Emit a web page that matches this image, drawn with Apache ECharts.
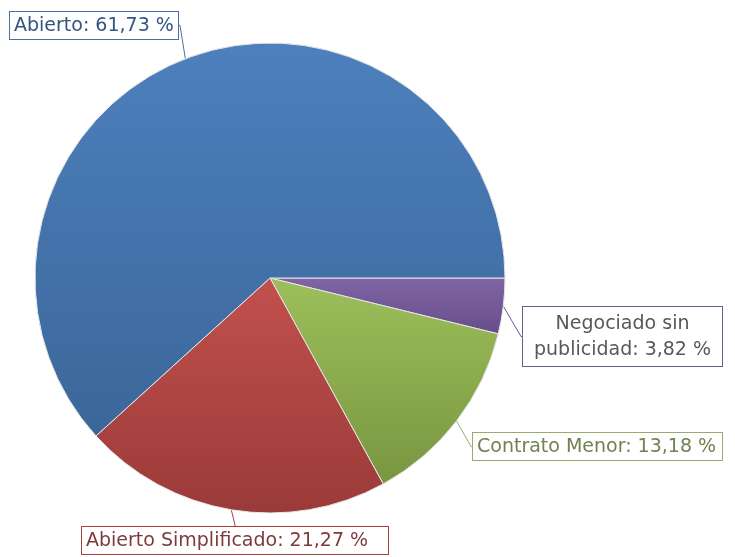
<!DOCTYPE html>
<html>
<head>
<meta charset="utf-8">
<script src="https://cdn.jsdelivr.net/npm/echarts@6/dist/echarts.min.js"></script>
<style>
  html, body { margin: 0; padding: 0; background: #fff; }
  #chart { width: 735px; height: 557px; }
</style>
</head>
<body>
<div id="chart"></div>
<script>
const categories = ["Negociado sin\npublicidad", "Contrato Menor", "Abierto Simplificado", "Abierto"];
const values = [3.82, 13.18, 21.27, 61.73];

const topColors = ["#8165a6", "#9dbf5b", "#c2504d", "#4d80bd"];
const bottomColors = ["#664d89", "#799640", "#9a3b39", "#3b6699"];
const borderColors = ["#6d5a92", "#98ab6c", "#a5403e", "#4a719f"];
const textColors = ["#585858", "#728150", "#7c3b3a", "#33557e"];

// label boxes: left, top, width of text area
const labelSpots = [[523, 307, 191], [473, 433, 241], [82, 527, 298], [10, 12, 160]];

const grad = (a, b) => new echarts.graphic.LinearGradient(0, 0, 0, 1, [
  { offset: 0, color: a },
  { offset: 1, color: b },
]);

const fmt = (v) => v.toFixed(2).replace(".", ",") + " %";

var myChart = echarts.init(document.getElementById("chart"));
var option = {
  animation: false,
  textStyle: { fontFamily: "DejaVu Sans" },
  series: [
    {
      type: "pie",
      center: [270, 278],
      radius: 235,
      startAngle: 0,
      clockwise: true,
      data: categories.map((c, i) => ({
        name: c,
        value: values[i],
        itemStyle: { color: grad(topColors[i], bottomColors[i]) },
        label: {
          color: textColors[i],
          borderColor: borderColors[i],
          width: labelSpots[i][2],
          lineHeight: i === 0 ? 26 : 24,
          padding: i === 0 ? [4, 4, 3, 4] : [2, 4, 1, 4],
        },
        labelLine: { lineStyle: { color: borderColors[i] } },
      })),
      itemStyle: { borderColor: "#e6e6e6", borderWidth: 1 },
      label: {
        show: true,
        position: "outside",
        formatter: (p) => p.name + ": " + fmt(p.value),
        fontSize: 19,
        overflow: "none",
        backgroundColor: "#fff",
        borderWidth: 1,
      },
      labelLine: { show: true, length: 12, length2: 1, lineStyle: { width: 1 } },
      labelLayout: (params) => {
        const s = labelSpots[params.dataIndex];
        if (params.dataIndex === 0) {
          return { x: s[0] + (s[2] + 8) / 2, y: s[1], align: "center", verticalAlign: "top" };
        }
        return { x: s[0], y: s[1], align: "left", verticalAlign: "top" };
      },
    },
  ],
};
myChart.setOption(option);
</script>
</body>
</html>
